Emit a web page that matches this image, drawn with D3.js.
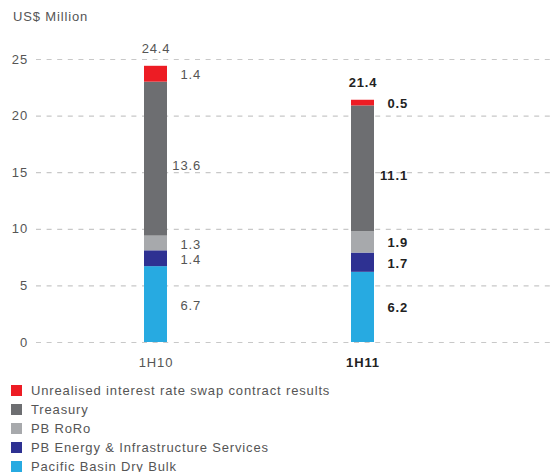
<!DOCTYPE html>
<html>
<head>
<meta charset="utf-8">
<script src="https://cdn.jsdelivr.net/npm/d3@7"></script>
<style>
  html, body { margin: 0; padding: 0; background: #fff; }
  svg { display: block; font-family: "Liberation Sans", Arial, Helvetica, sans-serif; }
  svg text { letter-spacing: 0.85px; }
</style>
</head>
<body>
<svg id="chart" width="550" height="472"></svg>
<script>
// Periods on the x axis
const periods = ["1H10", "1H11"];
// Segments, bottom to top of each stack
const seriesNames = [
  "Pacific Basin Dry Bulk",
  "PB Energy & Infrastructure Services",
  "PB RoRo",
  "Treasury",
  "Unrealised interest rate swap contract results"
];
const seriesColors = ["#27AAE1", "#2E3192", "#A7A9AC", "#6D6E71", "#ED1C24"];
const dryBulk = [6.7, 6.2];
const energy = [1.4, 1.7];
const roro = [1.3, 1.9];
const treasury = [13.6, 11.1];
const swap = [1.4, 0.5];
const totals = [24.4, 21.4];
const yTicks = [0, 5, 10, 15, 20, 25];
const yTitle = "US$ Million";

const seriesValues = [dryBulk, energy, roro, treasury, swap];

const svg = d3.select("#chart");
const width = 550;
const fontSize = 13;

const y = d3.scaleLinear().domain([0, 25]).range([342, 59]);
const x = d3.scalePoint().domain(periods).range([155.5, 362.5]);
const barW = 23;

// Dashed gridlines with the tick labels
const yAxis = d3.axisLeft(y).tickValues(yTicks).tickSize(-(width - 36)).tickPadding(8);
const gAxis = svg.append("g").attr("transform", "translate(36,0)").call(yAxis);
gAxis.select(".domain").remove();
gAxis.selectAll(".tick line")
  .attr("stroke", "#c8c8c8")
  .attr("stroke-width", 1.2)
  .attr("stroke-dasharray", "5,5.6");
gAxis.selectAll(".tick text")
  .attr("fill", "#555")
  .attr("font-size", fontSize)
  .attr("font-family", "Liberation Sans, Arial, sans-serif");

// Axis title
svg.append("text")
  .attr("x", 13).attr("y", 21)
  .attr("fill", "#555").attr("font-size", fontSize)
  .text(yTitle);

// Stack layout
const table = periods.map((p, i) => {
  const row = { period: p };
  seriesNames.forEach((s, k) => row[s] = seriesValues[k][i]);
  return row;
});
const stacked = d3.stack().keys(seriesNames)(table);

const boldPeriod = periods[1];
const labelStyle = p => p === boldPeriod
  ? { fill: "#222", weight: "bold" }
  : { fill: "#555", weight: "normal" };

stacked.forEach((layer, k) => {
  const g = svg.append("g");
  g.selectAll("rect").data(layer).join("rect")
    .attr("x", d => x(d.data.period) - barW / 2)
    .attr("width", barW)
    .attr("y", d => y(d[1]))
    .attr("height", d => y(d[0]) - y(d[1]))
    .attr("fill", seriesColors[k]);

  g.selectAll("text").data(layer).join("text")
    .attr("x", d => x(d.data.period) + barW / 2 + 34)
    .attr("y", d => (y(d[0]) + y(d[1])) / 2 + (k === 3 ? 7 : 1))
    .attr("dy", "0.35em")
    .attr("text-anchor", "end")
    .attr("font-size", fontSize)
    .attr("fill", d => labelStyle(d.data.period).fill)
    .attr("font-weight", d => labelStyle(d.data.period).weight)
    .text(d => (d[1] - d[0]).toFixed(1));
});

// Totals above each stack
svg.append("g").selectAll("text").data(periods).join("text")
  .attr("x", p => x(p) + 0.5)
  .attr("y", (p, i) => y(totals[i]) - 13)
  .attr("text-anchor", "middle")
  .attr("font-size", fontSize)
  .attr("fill", p => labelStyle(p).fill)
  .attr("font-weight", p => labelStyle(p).weight)
  .text((p, i) => totals[i].toFixed(1));

// Period labels
svg.append("g").selectAll("text").data(periods).join("text")
  .attr("x", p => x(p) + 0.5)
  .attr("y", 367)
  .attr("text-anchor", "middle")
  .attr("font-size", fontSize)
  .attr("fill", p => labelStyle(p).fill)
  .attr("font-weight", p => labelStyle(p).weight)
  .text(p => p);

// Legend, top entry is the top segment
const legendItems = seriesNames.map((s, k) => ({ name: s, color: seriesColors[k] })).reverse();
const legend = svg.append("g").selectAll("g").data(legendItems).join("g")
  .attr("transform", (d, i) => `translate(11,${390.5 + i * 19})`);
legend.append("rect")
  .attr("x", 0).attr("y", -5.5).attr("width", 11).attr("height", 11)
  .attr("fill", d => d.color);
legend.append("text")
  .attr("x", 20).attr("y", 0).attr("dy", "0.35em")
  .attr("font-size", fontSize).attr("fill", "#555")
  .text(d => d.name);
</script>
</body>
</html>
